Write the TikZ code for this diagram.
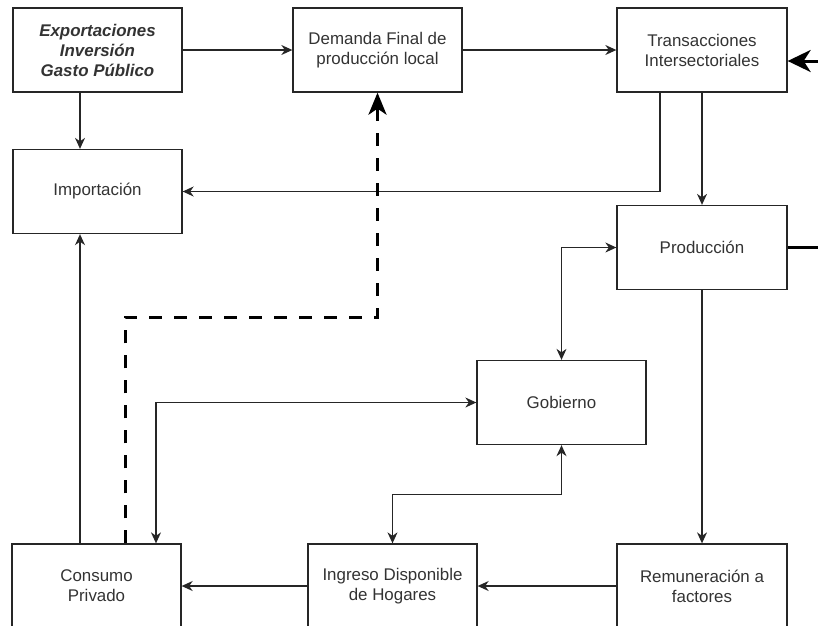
\documentclass[tikz,border=0pt]{standalone}
\usepackage{fontspec}
\setmainfont{Liberation Sans}
\usetikzlibrary{arrows.meta}
\definecolor{txt}{HTML}{333333}
\tikzset{
  box/.style={draw=black!85, line width=1.3pt, minimum width=169pt, minimum height=84pt,
    inner sep=0pt, align=center, text=txt, font=\fontsize{16.9}{20}\selectfont},
  tip/.style={Stealth[length=11pt,width=10pt,inset=3.5pt]},
  arr/.style={line width=1.3pt, draw=black!85, -{Stealth[length=11pt,width=10pt,inset=3.5pt]}},
  arrr/.style={line width=1.3pt, draw=black!85, {Stealth[length=11pt,width=10pt,inset=3.5pt]}-{Stealth[length=11pt,width=10pt,inset=3.5pt]}},
  dsh/.style={line width=3pt, draw=black, dash pattern=on 13pt off 12pt, -{Stealth[length=22pt,width=18pt,inset=6pt]}},
  thk/.style={line width=3pt, draw=black},
}
\begin{document}
\begin{tikzpicture}[x=1pt,y=-1pt]
\useasboundingbox (0,0) rectangle (818,625);
\clip (0,0) rectangle (818,625);
\node[box, font=\fontsize{16.9}{20}\selectfont\bfseries\itshape] (exp) at (97.5,50) {Exportaciones\\Inversión\\Gasto Público};
\node[box] (dem) at (377.5,50) {Demanda Final de\\producción local};
\node[box, minimum width=170pt] (tra) at (702,50) {Transacciones\\Intersectoriales};
\node[box] (imp) at (97.5,191.5) {Importación};
\node[box, minimum width=170pt] (pro) at (702,247.5) {Producción};
\node[box] (gob) at (561.5,402.5) {Gobierno};
\node[box] (con) at (96.5,586) {Consumo\\Privado};
\node[box] (ing) at (392.5,586) {Ingreso Disponible\\de Hogares};
\node[box, minimum width=170pt] (rem) at (702,586) {Remuneración a\\factores};
\coordinate (rin) at (818,61);
\coordinate (rout) at (818,247.5);

\draw[arr] (exp.east) -- (dem.west);
\draw[arr] (dem.east) -- (tra.west);
\draw[arr] ([xshift=-17.5pt]exp.south) -- ([xshift=-17.5pt]imp.north);
\draw[arr] ([xshift=-42pt]tra.south) |- (imp.east);
\draw[arr] (tra.south) -- (pro.north);
\draw[arrr] (pro.west) -| (gob.north);
\draw[arr] (pro.south) -- (rem.north);
\draw[arrr] (gob.west) -| ([xshift=59.5pt]con.north);
\draw[arrr] (gob.south) -- ++(0,49.5) -| (ing.north);
\draw[arr] (rem.west) -- (ing.east);
\draw[arr] (ing.west) -- (con.east);
\draw[arr] ([xshift=-16.5pt]con.north) -- ([xshift=-17.5pt]imp.south);
\draw[dsh] ([xshift=28.5pt]con.north) -- ++(0,-226) -| (dem.south);
\draw[thk, -{Stealth[length=23pt,width=22pt,inset=7pt]}] (rin) -- (tra.east |- rin);
\draw[thk] (pro.east) -- (rout);
\end{tikzpicture}
\end{document}
